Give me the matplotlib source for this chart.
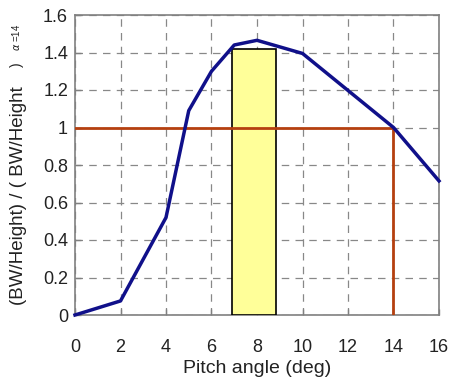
import matplotlib

matplotlib.use('Agg')
import matplotlib.pyplot as plt  # noqa: E402

plt.rcParams['font.family'] = ['Liberation Sans', 'DejaVu Sans']

pitch = [0, 2, 4, 5, 6, 7, 8, 10, 14, 16]
ratio = [0.0, 0.075, 0.52, 1.09, 1.30, 1.44, 1.465, 1.395, 1.0, 0.715]

band_start = 6.9
band_end = 8.85
band_top = 1.42

ref_angle = 14
ref_ratio = 1.0

x_ticks = [0, 2, 4, 6, 8, 10, 12, 14, 16]
y_ticks = [0, 0.2, 0.4, 0.6, 0.8, 1, 1.2, 1.4, 1.6]
y_ticklabels = ['0', '0.2', '0.4', '0.6', '0.8', '1', '1.2', '1.4', '1.6']

W, H = 452, 387
fig = plt.figure(figsize=(W / 100, H / 100), dpi=100)
ax = fig.add_axes([75 / W, 1 - 315 / H, 364 / W, 300 / H])

ax.bar(band_start, band_top, width=band_end - band_start, align='edge',
       color='#FFFF99', edgecolor='black', lw=1.2, zorder=3)
ax.plot([0, ref_angle], [ref_ratio, ref_ratio], color='#B5400F', lw=2, zorder=4)
ax.plot([ref_angle, ref_angle], [0, ref_ratio], color='#B5400F', lw=2, zorder=4)
ax.plot(pitch, ratio, color='#10108A', lw=2.5, zorder=5, clip_on=False)

ax.set_xlim(0, 16)
ax.set_ylim(0, 1.6)
ax.set_xticks(x_ticks)
ax.set_yticks(y_ticks)
ax.set_yticklabels(y_ticklabels)
ax.tick_params(direction='in', length=4, width=1, color='#808080',
               labelsize=13, labelcolor='#222222')
ax.tick_params(axis='x', pad=17)
ax.tick_params(axis='y', pad=5)
ax.grid(True, ls=(0, (6, 5)), color='#888888', lw=0.9, zorder=0)
ax.set_axisbelow(True)
for sp in ax.spines.values():
    sp.set_color('#808080')
    sp.set_linewidth(1.2)

ax.set_xlabel('Pitch angle (deg)', fontsize=14, color='#222222', labelpad=3)

# y label: main text, then a small ")" and the alpha note
fig.text(19 / W, 1 - 305 / H, '(BW/Height) / ( BW/Height', rotation=90,
         ha='center', va='bottom', fontsize=13.5, color='#222222')
fig.text(17 / W, 1 - 65 / H, ')', rotation=90, ha='center', va='center',
         fontsize=10, color='#222222')
fig.text(16 / W, 1 - 51 / H, r'$\alpha$ =14', rotation=90, ha='center',
         va='bottom', fontsize=7, color='#222222')

fig.savefig('out.png', dpi=100)
